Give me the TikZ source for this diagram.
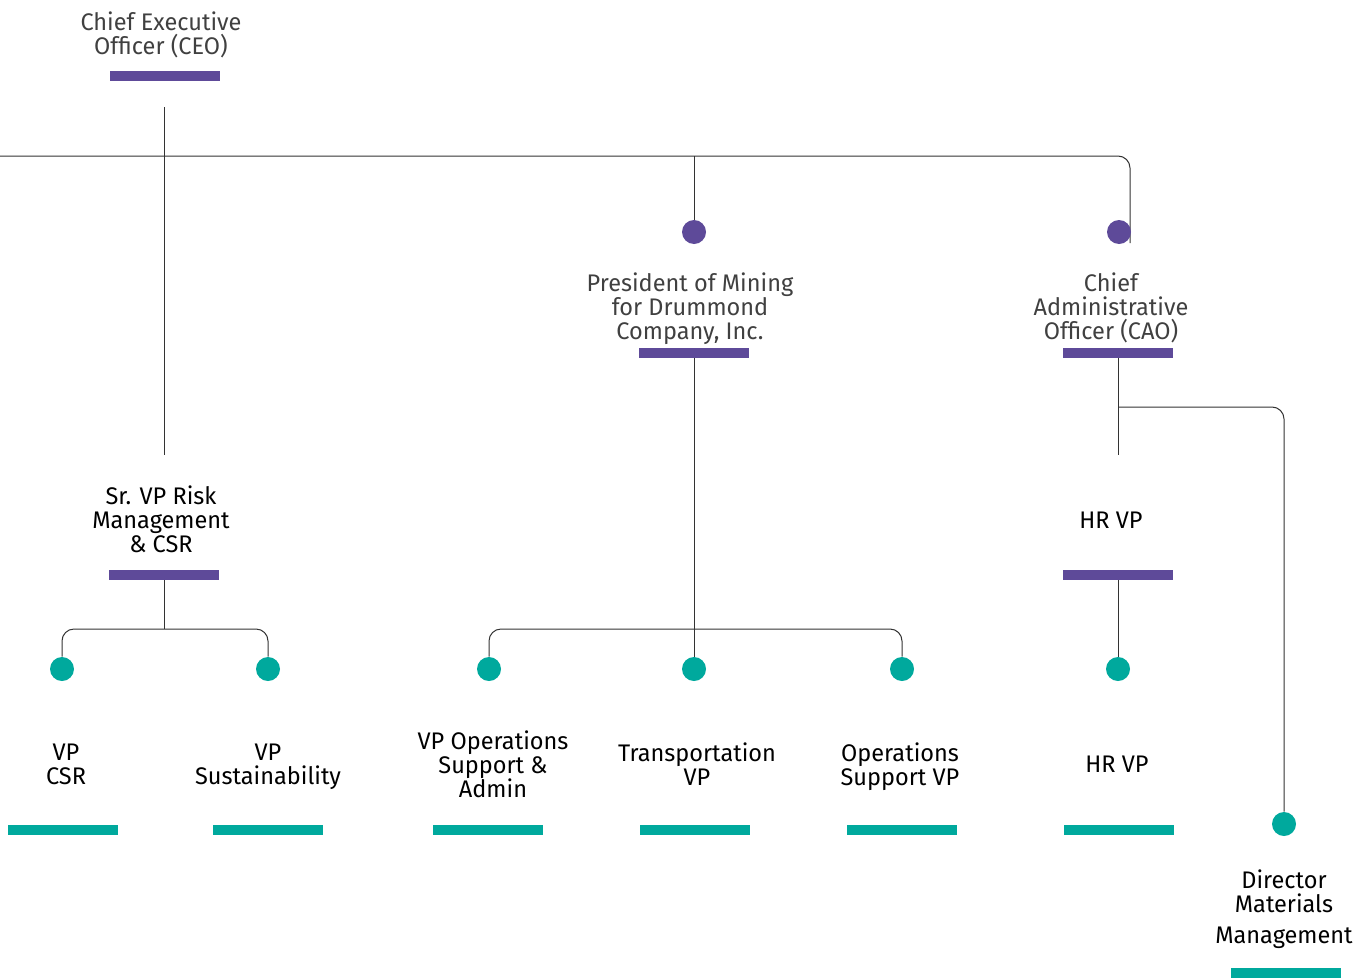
\documentclass[tikz,border=0pt]{standalone}
\usepackage{fontspec}
\usetikzlibrary{backgrounds}
\setmainfont{Fira Sans}[FakeStretch=0.98]
\begin{document}
\begin{tikzpicture}[x=0.75pt,y=-0.75pt,
  lbl/.style={align=center,inner sep=0pt,font=\fontsize{18pt}{18pt}\selectfont,
    execute at begin node=\strut,execute at end node=\strut},
  toplbl/.style={lbl,text=labelgray},
  botlbl/.style={lbl,text=black},
  pbar/.style={rectangle,fill=orgpurple,inner sep=0pt,minimum width=82.5pt,minimum height=7.5pt},
  tbar/.style={rectangle,fill=orgteal,inner sep=0pt,minimum width=82.5pt,minimum height=7.5pt},
  pdot/.style={circle,fill=orgpurple,inner sep=0pt,minimum size=18pt},
  tdot/.style={circle,fill=orgteal,inner sep=0pt,minimum size=18pt},
  link/.style={draw=linegray,line width=0.75pt,rounded corners=9pt}]
\definecolor{orgpurple}{HTML}{5E4A99}
\definecolor{orgteal}{HTML}{00A99D}
\definecolor{labelgray}{HTML}{404040}
\definecolor{linegray}{HTML}{333333}
\useasboundingbox (0,0) rectangle (1367,978);

% connector end points and junctions
\coordinate (ceotop) at (164,107);
\coordinate (ceobot) at (164,455);
\coordinate (rowleft) at (0,156);
\coordinate (rowmid) at (694,156);
\coordinate (caoend) at (1130,243);
\coordinate (caobot) at (1118,455);
\coordinate (caobranch) at (1118,407);
\coordinate (srjoin) at (164,629);
\coordinate (presjoin) at (694,629);

% --- top level ---
\node[toplbl] (ceo) at (161,37) {Chief Executive\\Officer (CEO)};
\node[pbar] (ceobar) at (165,76) {};
\node[pdot] (presdot) at (694,232) {};
\node[pdot] (caodot) at (1119,232) {};
\node[toplbl] (pres) at (690,310) {President of Mining\\for Drummond\\Company, Inc.};
\node[pbar] (presbar) at (694,353) {};
\node[toplbl] (cao) at (1111,310) {Chief\\Administrative\\Officer (CAO)};
\node[pbar] (caobar) at (1118,353) {};

% --- second level ---
\node[botlbl] (srvp) at (161,523) {Sr. VP Risk\\Management\\\& CSR};
\node[pbar] (srbar) at (164,575) {};
\node[botlbl] (hrvp1) at (1111,524) {HR VP};
\node[pbar] (hrbar) at (1118,575) {};

% --- third level ---
\node[tdot] (csrdot) at (62,669) {};
\node[tdot] (susdot) at (268,669) {};
\node[tdot] (vosdot) at (489,669) {};
\node[tdot] (trdot) at (694,669) {};
\node[tdot] (osdot) at (902,669) {};
\node[tdot] (hrdot) at (1118,669) {};
\node[tdot] (dmmdot) at (1284,824) {};

\node[botlbl] (csr) at (66,768) {VP\\CSR};
\node[botlbl] (sus) at (268,768) {VP\\Sustainability};
\node[botlbl] (vos) at (493,768) {VP Operations\\Support \&\\Admin};
\node[botlbl] (tr) at (697,768) {Transportation\\VP};
\node[botlbl] (os) at (900,768) {Operations\\Support VP};
\node[botlbl] (hrvp2) at (1117,768) {HR VP};
\node[botlbl] (dmm) at (1284,910) {Director\\Materials\\[5.5pt]Management};

\node[tbar] (csrbar) at (63,830) {};
\node[tbar] (susbar) at (268,830) {};
\node[tbar] (vosbar) at (488,830) {};
\node[tbar] (trbar) at (695,830) {};
\node[tbar] (osbar) at (902,830) {};
\node[tbar] (hr2bar) at (1119,830) {};
\node[tbar] (dmmbar) at (1286,973) {};

% --- connectors, kept behind the dots ---
\begin{scope}[on background layer]
\draw[link] (ceotop) -- (ceobot);
\draw[link] (rowleft) -| (caoend);
\draw[link] (rowmid) -- (presdot);
\draw[link] (presbar.south) -- (trdot);
\draw[link] (vosdot) |- (presjoin) -| (osdot);
\draw[link] (caobar.south) -- (caobot);
\draw[link] (caobranch) -| (dmmdot);
\draw[link] (srbar.south) -- (srjoin);
\draw[link] (csrdot) |- (srjoin) -| (susdot);
\draw[link] (hrbar.south) -- (hrdot);
\end{scope}
\end{tikzpicture}
\end{document}
